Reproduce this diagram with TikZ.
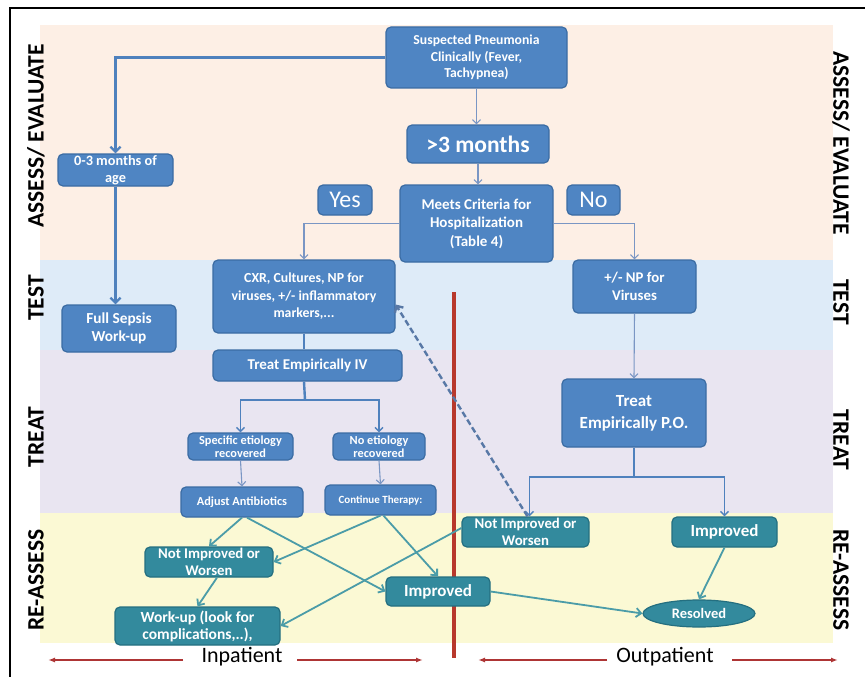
\documentclass[tikz,border=0pt]{standalone}
\usepackage{fontspec}
\setmainfont{Carlito}
\usetikzlibrary{arrows.meta,shapes.geometric}

\definecolor{bandassess}{HTML}{FDEFE5}
\definecolor{bandtest}{HTML}{DEEBF8}
\definecolor{bandtreat}{HTML}{E9E5F1}
\definecolor{bandre}{HTML}{FBF9D4}
\definecolor{boxfill}{HTML}{4F85C3}
\definecolor{boxedge}{HTML}{3B6CA3}
\definecolor{tealfill}{HTML}{338A9D}
\definecolor{tealedge}{HTML}{246F80}
\definecolor{linkblue}{HTML}{4F81BD}
\definecolor{thinblue}{HTML}{7A96C4}
\definecolor{teallink}{HTML}{4B9CA8}
\definecolor{dashblue}{HTML}{5878A6}
\definecolor{divred}{HTML}{B8382C}
\definecolor{arrowred}{HTML}{AE3535}

\begin{document}
\begin{tikzpicture}[x=1pt,y=-1pt,
  bluebox/.style={draw=boxedge,fill=boxfill,rounded corners=5pt,line width=1.2pt,text=white,align=center,inner sep=0pt},
  tealbox/.style={draw=tealedge,fill=tealfill,rounded corners=5pt,line width=1.2pt,text=white,align=center,inner sep=0pt},
  txt/.style 2 args={font=\fontsize{#1}{#2}\selectfont\bfseries},
  thinarrow/.style={draw=thinblue,line width=1.1pt,-{Straight Barb[length=4pt,width=8pt]}},
  thickline/.style={draw=linkblue,line width=2.4pt},
  tealarrow/.style={draw=teallink,line width=1.8pt,-{Straight Barb[length=5pt,width=9pt]}},
  sidelabel/.style={font=\fontsize{23.5}{25}\selectfont\bfseries},
  redarrow/.style={draw=arrowred,line width=2pt,-{Latex[length=7pt,width=5pt]}}]

\useasboundingbox (0,0) rectangle (865,677);
\fill[white] (0,0) rectangle (865,677);

% bands
\fill[bandassess] (40,25) rectangle (833,260);
\fill[bandtest] (40,260) rectangle (833,350);
\fill[bandtreat] (40,350) rectangle (833,513);
\fill[bandre] (40,513) rectangle (833,643);

% frame
\draw[line width=2.5pt] (10,677) -- (10,8) -- (865,8);

% side labels
\node[sidelabel,rotate=90] (assessL) at (36,136) {ASSESS/ EVALUATE};
\node[sidelabel,rotate=90] (testL) at (36,298) {TEST};
\node[sidelabel,rotate=90] (treatL) at (36,437) {TREAT};
\node[sidelabel,rotate=90] (reL) at (36,580) {RE-ASSESS};
\node[sidelabel,rotate=-90] (assessR) at (841,143) {ASSESS/ EVALUATE};
\node[sidelabel,rotate=-90] (testR) at (841,302) {TEST};
\node[sidelabel,rotate=-90] (treatR) at (841,440) {TREAT};
\node[sidelabel,rotate=-90] (reR) at (841,580) {RE-ASSESS};

% inpatient / outpatient divider
\draw[divred,line width=3.5pt] (454,292) -- (454,658);

% blue boxes
\node[bluebox,txt={13.7}{16.5},minimum width=181,minimum height=61] (susp) at (476.5,57.5) {Suspected Pneumonia\\Clinically (Fever,\\Tachypnea)};
\node[bluebox,txt={23.5}{25},minimum width=142,minimum height=38] (older) at (478,144) {>3 months};
\node[bluebox,txt={15}{18.5},minimum width=153,minimum height=77] (meets) at (476.5,223.5) {Meets Criteria for\\Hospitalization\\(Table 4)};
\node[bluebox,font=\fontsize{24}{25}\selectfont,minimum width=54,minimum height=30] (yes) at (345,200) {Yes};
\node[bluebox,font=\fontsize{24}{25}\selectfont,minimum width=53,minimum height=30] (no) at (593.5,200) {No};
\node[bluebox,txt={14.3}{16.5},minimum width=115,minimum height=32] (young) at (115.5,170) {0-3 months of\\age};
\node[bluebox,txt={15.3}{17.5},minimum width=114,minimum height=47] (sepsis) at (119,328.5) {Full Sepsis\\Work-up};
\node[bluebox,txt={13.8}{17.5},minimum width=182,minimum height=73] (cxr) at (304,296.5) {CXR, Cultures, NP for\\viruses, +/- inflammatory\\markers,...};
\node[bluebox,txt={15}{17},minimum width=189,minimum height=31] (treativ) at (307.5,365.5) {Treat Empirically IV};
\node[bluebox,txt={12.3}{13},minimum width=105,minimum height=27] (specific) at (240.5,446.5) {Specific etiology\\recovered};
\node[bluebox,txt={12.3}{13},minimum width=92,minimum height=27] (noetio) at (379,446.5) {No etiology\\recovered};
\node[bluebox,txt={12.3}{14},minimum width=122,minimum height=30] (adjust) at (242,502) {Adjust Antibiotics};
\node[bluebox,txt={11}{13},minimum width=111,minimum height=30] (contin) at (380.5,500) {Continue Therapy:};
\node[bluebox,txt={14.8}{18},minimum width=123,minimum height=53] (npvir) at (634.5,286.5) {+/- NP for\\Viruses};
\node[bluebox,txt={17}{22},minimum width=144,minimum height=68] (treatpo) at (634,413) {Treat\\Empirically P.O.};

% teal boxes
\node[tealbox,txt={14.8}{16.5},minimum width=128,minimum height=30] (notimpL) at (209,562) {Not Improved or\\Worsen};
\node[tealbox,txt={15.5}{17},minimum width=165,minimum height=38] (workup) at (197.5,626) {Work-up (look for\\complications,..),};
\node[tealbox,txt={17}{19},minimum width=104,minimum height=29] (impC) at (438,591.5) {Improved};
\node[tealbox,txt={14.8}{16.5},minimum width=127,minimum height=30] (notimpR) at (525.5,532) {Not Improved or\\Worsen};
\node[tealbox,txt={17}{19},minimum width=105,minimum height=30] (impR) at (724.5,532) {Improved};
\node[tealbox,ellipse,txt={14.5}{16},minimum width=112,minimum height=27] (resolved) at (699,613.5) {Resolved};

% assess connectors
\draw[thickline,-{Straight Barb[length=5pt,width=10pt]}] (susp.west) -| (young.north);
\draw[thickline,-{Straight Barb[length=5pt,width=10pt]}] (young.south) -- (young.south |- sepsis.north);
\draw[thinarrow] (susp.south) -- (susp.south |- older.north);
\draw[thinarrow] (older.south) -- (older.south |- meets.north);
\draw[thinarrow] (meets.west) -| (cxr.north);
\draw[thinarrow] (meets.east) -| (npvir.north);

% inpatient branch
\coordinate (ivsplit) at (305,400);
\draw[thickline] (cxr.south) -- (cxr.south |- treativ.north);
\draw[thickline] (cxr.south |- treativ.south) -- (ivsplit);
\draw[thinarrow,draw=linkblue,line width=1.4pt] (ivsplit) -| (specific.north);
\draw[thinarrow,draw=linkblue,line width=1.4pt] (ivsplit) -| (noetio.north);
\draw[thinarrow] (specific.south) -- (adjust.north);
\draw[thinarrow] (noetio.south) -- (contin.north);

% outpatient branch
\coordinate (posplit) at (634,477);
\draw[thinarrow] (npvir.south) -- (treatpo.north);
\draw[thickline] (treatpo.south) -- (posplit);
\draw[thinarrow,draw=linkblue,line width=1.4pt] (posplit) -| ([xshift=4pt]notimpR.north);
\draw[thinarrow,draw=linkblue,line width=1.4pt] (posplit) -| (impR.north);
\draw[draw=dashblue,line width=2.4pt,dash pattern=on 6pt off 3pt,-{Straight Barb[length=5pt,width=10pt]}] ([xshift=2pt]notimpR.north) -- ([yshift=-8pt]cxr.east);

% re-assess
\draw[tealarrow] (adjust.south) -- (notimpL.north);
\draw[tealarrow] ([xshift=5pt]adjust.south) -- (impC.west);
\draw[tealarrow] (contin.south) -- (notimpL.east);
\draw[tealarrow] ([xshift=3pt]contin.south) -- (impC.north);
\draw[tealarrow] ([xshift=8pt]notimpL.south) -- (workup.north);
\draw[tealarrow] ([yshift=4pt]notimpR.west) -- (workup.east);
\draw[tealarrow] (impC.east) -- (resolved.west);
\draw[tealarrow] (impR.south) -- (resolved.north);

% in / out labels
\node[font=\fontsize{22}{24}\selectfont] (inpat) at (242,657) {Inpatient};
\node[font=\fontsize{22}{24}\selectfont] (outpat) at (665,657) {Outpatient};
\coordinate (inleft) at (48,660);
\coordinate (inright) at (423,660);
\coordinate (outleft) at (478,660);
\coordinate (outright) at (838,660);
\draw[redarrow] (183,660) -- (inleft);
\draw[redarrow] (297,660) -- (inright);
\draw[redarrow] (607,660) -- (outleft);
\draw[redarrow] (732,660) -- (outright);
\end{tikzpicture}
\end{document}
